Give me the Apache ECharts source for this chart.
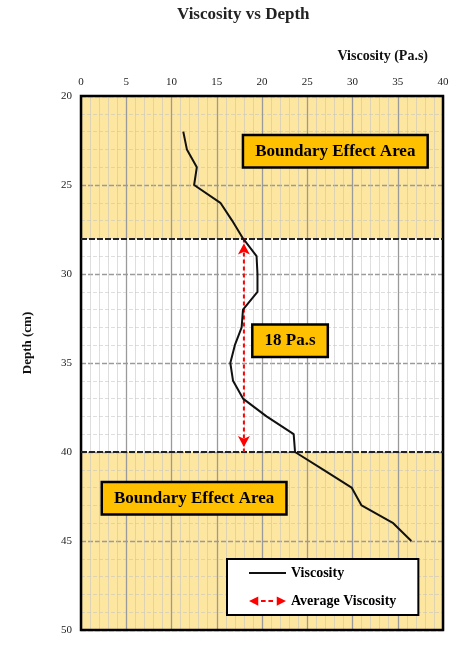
<!DOCTYPE html>
<html>
<head>
<meta charset="utf-8">
<script src="https://cdn.jsdelivr.net/npm/echarts@6/dist/echarts.min.js"></script>
<style>html,body{margin:0;padding:0;background:#fff;}#c{width:471px;height:658px;}</style>
</head>
<body>
<div id="c"></div>
<script>
// ---- data ----
const depths = [22,23,24,25,26,27,28,29,30,31,32,33,34,35,36,37,38,39,40,41,42,43,44,45];
const viscosity = [11.3,11.7,12.8,12.5,15.4,16.7,17.9,19.4,19.5,19.5,17.9,17.75,17.0,16.5,16.8,17.9,20.5,23.5,23.65,26.8,29.9,31.0,34.5,36.5];
const averageViscosity = 18;
const averageRange = [28, 40];
const boundaryDepths = [28, 40];
const xRange = [0, 40];
const yRange = [20, 50];
const labels = { title: 'Viscosity vs Depth', xName: 'Viscosity (Pa.s)', yName: 'Depth (cm)', avgText: '18 Pa.s', boundary: 'Boundary Effect Area' };

const FONT = 'Liberation Serif';
const chart = echarts.init(document.getElementById('c'));

const boxLabel = {
  show: true, position: 'inside', formatter: '{b}',
  fontFamily: FONT, fontWeight: 'bold', fontSize: 17, color: '#000',
  backgroundColor: '#FFC000', borderColor: '#000', borderWidth: 2.5,
  padding: [7, 11, 6, 11]
};

const option = {
  backgroundColor: '#fff',
  animation: false,
  title: [
    { text: labels.title, left: 172, top: 1,
      textStyle: { fontFamily: FONT, fontWeight: 'bold', fontSize: 17, color: '#222' } },
    { text: labels.xName, right: 38, top: 44,
      textStyle: { fontFamily: FONT, fontWeight: 'bold', fontSize: 14, color: '#111' } }
  ],
  grid: { left: 81, right: 28, top: 96, bottom: 28, show: true, z: 3,
    backgroundColor: 'transparent', borderColor: '#000', borderWidth: 2.5 },
  legend: {
    orient: 'vertical', left: 227, top: 559,
    backgroundColor: '#fff', borderColor: '#000', borderWidth: 2,
    padding: [7, 22, 7, 22], itemGap: 14, itemWidth: 37, itemHeight: 12,
    textStyle: { fontFamily: FONT, fontWeight: 'bold', fontSize: 14, color: '#000' },
    data: [
      { name: 'Viscosity', icon: 'path://M0,5 L40,5 L40,7 L0,7 Z' },
      { name: 'Average Viscosity',
        icon: 'path://M0,5 L10,0 L10,10 Z M13,4 L18,4 L18,6 L13,6 Z M21,4 L26,4 L26,6 L21,6 Z M40,5 L30,0 L30,10 Z' }
    ]
  },
  xAxis: {
    type: 'value', position: 'top', min: xRange[0], max: xRange[1], interval: 5, z: 2,
    axisLine: { show: false }, axisTick: { show: false },
    axisLabel: { fontFamily: FONT, fontSize: 11, color: '#222', margin: 8 },
    splitLine: { show: true, lineStyle: { color: '#9a9a9a', width: 1.3 } },
    minorTick: { show: false, splitNumber: 5 },
    minorSplitLine: { show: true, lineStyle: { color: 'rgba(195,195,195,0.55)', width: 1 } }
  },
  yAxis: {
    type: 'value', inverse: true, min: yRange[0], max: yRange[1], interval: 5, z: 2,
    axisLine: { show: false }, axisTick: { show: false },
    axisLabel: { fontFamily: FONT, fontSize: 11, color: '#222', margin: 9 },
    splitLine: { show: true, lineStyle: { color: '#9a9a9a', width: 1.3, type: [5, 2] } },
    minorTick: { show: false, splitNumber: 5 },
    minorSplitLine: { show: true, lineStyle: { color: 'rgba(195,195,195,0.55)', width: 1, type: [4, 2] } }
  },
  graphic: [
    { type: 'text', x: 28, y: 343, rotation: Math.PI / 2, z: 10,
      style: { text: labels.yName, fontFamily: FONT, fontWeight: 'bold', fontSize: 13, fill: '#111',
        align: 'center', verticalAlign: 'middle' } }
  ],
  series: [
    {
      name: 'bg', type: 'line', data: [], z: 0, silent: true,
      markArea: { silent: true, z: 0, itemStyle: { color: '#FDE6A0' },
        data: [[{ yAxis: yRange[0] }, { yAxis: boundaryDepths[0] }],
               [{ yAxis: boundaryDepths[1] }, { yAxis: yRange[1] }]] }
    },
    {
      name: 'Viscosity', type: 'line', z: 4, symbol: 'none',
      lineStyle: { color: '#111', width: 2 }, itemStyle: { color: '#111' },
      data: depths.map((d, i) => [viscosity[i], d]),
      markPoint: {
        symbol: 'rect', symbolSize: 0, silent: true, z: 6, label: boxLabel,
        data: [
          { name: labels.boundary, coord: [28.1, 23.1] },
          { name: labels.boundary, coord: [12.5, 42.6] },
          { name: labels.avgText, coord: [23.1, 33.75] }
        ]
      }
    },
    {
      name: 'Average Viscosity', type: 'line', z: 3, symbol: 'arrow', symbolSize: [9, 11],
      showSymbol: true,
      lineStyle: { color: '#FF0000', width: 2, type: [4, 3] }, itemStyle: { color: '#FF0000' },
      data: [
        { value: [averageViscosity, averageRange[0]], symbolRotate: 0, symbolOffset: [0, 5] },
        { value: [averageViscosity, averageRange[1]], symbolRotate: 180, symbolOffset: [0, -5] }
      ],
      markLine: {
        silent: true, symbol: 'none', label: { show: false }, z: 3,
        lineStyle: { color: '#222', width: 2, type: [6, 2] },
        data: boundaryDepths.map(d => ({ yAxis: d }))
      }
    }
  ]
};
chart.setOption(option);
</script>
</body>
</html>
